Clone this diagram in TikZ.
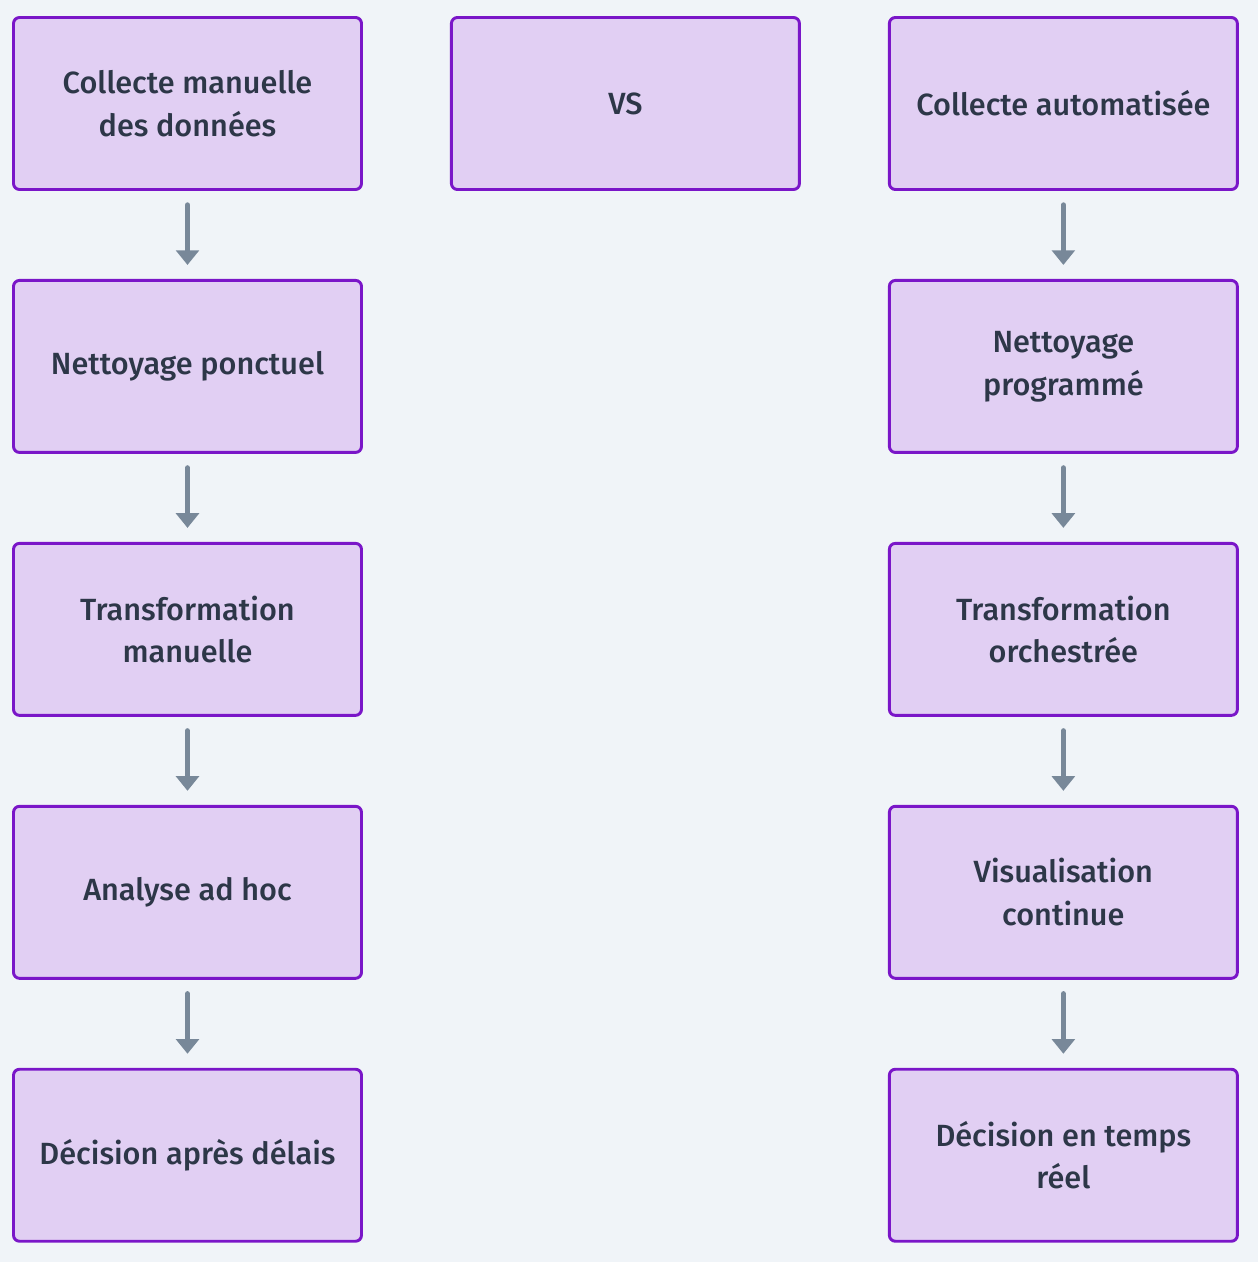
\documentclass[tikz,border=0pt]{standalone}
\usepackage{fontspec}
\setmainfont{Fira Sans}[UprightFont=* Medium]
\usepackage{tikz}
\usetikzlibrary{positioning,arrows.meta}
\definecolor{pagebg}{RGB}{240,244,248}
\definecolor{boxfill}{RGB}{225,207,243}
\definecolor{boxline}{RGB}{122,22,200}
\definecolor{inktext}{RGB}{45,55,72}
\definecolor{flowgray}{RGB}{120,136,153}

\begin{document}
\begin{tikzpicture}[x=0.75pt, y=-0.75pt,
  stage/.style={draw=boxline, fill=boxfill, line width=2.2pt, rounded corners=4.5pt,
    minimum width=261pt, minimum height=129pt, align=center, text=inktext,
    font=\fontsize{23}{32}\selectfont},
  flow/.style={flowgray, line width=4pt, line cap=round,
    -{Triangle[width=17pt,length=11pt]}, shorten <=10.5pt, shorten >=10.5pt},
  node distance=66pt and 65.25pt]
% Background
\fill[pagebg] (0,0) rectangle (1258,1262);
\useasboundingbox (0,0) rectangle (1258,1262);

% Manual column
\node[stage] (man1) at (187.5,103.5) {Collecte manuelle\\des données};
\node[stage, below=of man1] (man2) {Nettoyage ponctuel};
\node[stage, below=of man2] (man3) {Transformation\\manuelle};
\node[stage, below=of man3] (man4) {Analyse ad hoc};
\node[stage, below=of man4] (man5) {Décision après délais};

% Middle
\node[stage, right=of man1] (vs) {VS};

% Automated column
\node[stage, right=of vs] (auto1) {Collecte automatisée};
\node[stage, below=of auto1] (auto2) {Nettoyage\\programmé};
\node[stage, below=of auto2] (auto3) {Transformation\\orchestrée};
\node[stage, below=of auto3] (auto4) {Visualisation\\continue};
\node[stage, below=of auto4] (auto5) {Décision en temps\\réel};

% Arrows
\foreach \a/\b in {man1/man2, man2/man3, man3/man4, man4/man5,
                   auto1/auto2, auto2/auto3, auto3/auto4, auto4/auto5}
  \draw[flow] (\a.south) -- (\b.north);
\end{tikzpicture}
\end{document}
